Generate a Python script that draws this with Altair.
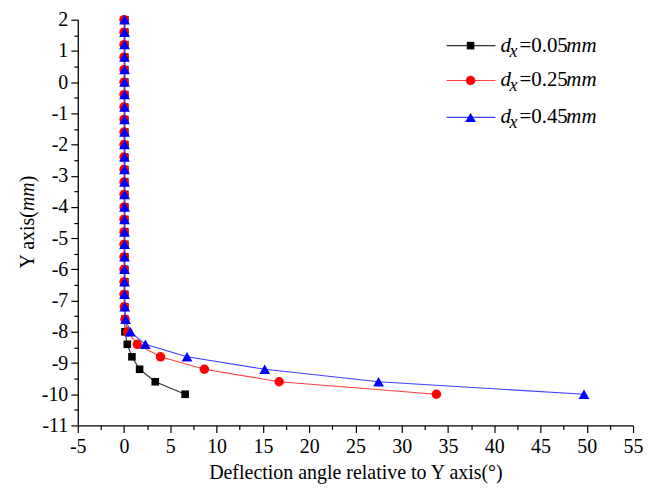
import altair as alt
import pandas as pd

# ---- data ----
y_mm = [2.0, 1.6, 1.2, 0.8, 0.4, 0.0, -0.4, -0.8, -1.2, -1.6, -2.0, -2.4, -2.8,
        -3.2, -3.6, -4.0, -4.4, -4.8, -5.2, -5.6, -6.0, -6.4, -6.8, -7.2, -7.6,
        -8.0, -8.4, -8.8, -9.2, -9.6, -10.0]

angle_005 = [0.08, 0.08, 0.08, 0.08, 0.08, 0.08, 0.08, 0.08, 0.08, 0.08, 0.08, 0.08,
             0.08, 0.08, 0.08, 0.08, 0.08, 0.08, 0.08, 0.08, 0.08, 0.08, 0.08, 0.08,
             0.08, 0.1, 0.35, 0.85, 1.68, 3.37, 6.6]
angle_025 = [0.0, 0.0, 0.0, 0.0, 0.0, 0.0, 0.0, 0.0, 0.0, 0.0, 0.0, 0.0,
             0.0, 0.0, 0.0, 0.0, 0.0, 0.0, 0.0, 0.0, 0.0, 0.0, 0.0, 0.03,
             0.1, 0.4, 1.43, 3.94, 8.68, 16.76, 33.75]
angle_045 = [0.05, 0.05, 0.05, 0.05, 0.05, 0.05, 0.05, 0.05, 0.05, 0.05, 0.05, 0.05,
             0.05, 0.05, 0.05, 0.05, 0.05, 0.05, 0.05, 0.05, 0.05, 0.05, 0.05, 0.08,
             0.17, 0.68, 2.3, 6.8, 15.2, 27.5, 49.7]

series = ["0.05", "0.25", "0.45"]
series_values = [angle_005, angle_025, angle_045]
colors = ["#000000", "#FF0000", "#0000FF"]
line_colors = ["#333333", "#FF4040", "#4040FF"]
shapes = ["square", "circle", "triangle-up"]
sizes = [58, 90, 118]

x_ticks = [-5 + 2.5 * i for i in range(25)]
y_ticks = [-11 + 0.5 * i for i in range(27)]

FONT = "'Liberation Serif', 'DejaVu Serif', serif"
W, H = 557, 407

rows = []
for s, vals in zip(series, series_values):
    for i, (yv, xv) in enumerate(zip(y_mm, vals)):
        rows.append({"series": s, "idx": i, "y": yv, "angle": xv})
df = pd.DataFrame(rows)

x_enc = alt.X(
    "angle:Q",
    scale=alt.Scale(domain=[-5, 55], nice=False, zero=False),
    axis=alt.Axis(
        values=x_ticks,
        labelExpr="datum.value % 5 === 0 ? '' + datum.value : ''",
        tickSize={"condition": {"test": "datum.value % 5 === 0", "value": 7}, "value": 4},
        title="Deflection angle relative to Y axis(°)",
        titleFont=FONT, titleFontSize=20, titleFontWeight="normal", titleColor="black",
        titlePadding=6,
        labelFont=FONT, labelFontSize=20, labelColor="black", labelPadding=4,
        labelFlush=False, labelOverlap=False,
        domainColor="black", domainWidth=1.3, tickColor="black", tickWidth=1.2,
        grid=False,
    ),
)
y_enc = alt.Y(
    "y:Q",
    scale=alt.Scale(domain=[-11, 2], nice=False, zero=False),
    axis=alt.Axis(
        values=y_ticks,
        labelExpr="datum.value % 1 === 0 ? '' + datum.value : ''",
        tickSize={"condition": {"test": "datum.value % 1 === 0", "value": 7}, "value": 4},
        title=None,
        labelFont=FONT, labelFontSize=20, labelColor="black", labelPadding=3,
        labelFlush=False, labelOverlap=False,
        domainColor="black", domainWidth=1.3, tickColor="black", tickWidth=1.2,
        grid=False,
    ),
)

layers = []
for s, c, lc, sh, sz in zip(series, colors, line_colors, shapes, sizes):
    sub = df[df["series"] == s]
    layers.append(
        alt.Chart(sub).mark_line(color=lc, strokeWidth=1.1).encode(
            x=x_enc, y=y_enc, order="idx:Q")
    )
    layers.append(
        alt.Chart(sub).mark_point(shape=sh, size=sz, filled=True, color=c, opacity=1).encode(
            x=x_enc, y=y_enc)
    )

one = alt.Data(values=[{"a": 1}])

# ---- custom legend (italic d, subscript x, italic mm) ----
leg_rows = [26, 61, 98]
for s, c, lc, sh, sz, ry in zip(series, colors, line_colors, shapes, sizes, leg_rows):
    layers.append(alt.Chart(one).mark_rule(color=lc, strokeWidth=1.1).encode(
        x=alt.value(370), x2=alt.value(419), y=alt.value(ry)))
    layers.append(alt.Chart(one).mark_point(shape=sh, size=sz, filled=True, color=c, opacity=1).encode(
        x=alt.value(394), y=alt.value(ry)))
    layers.append(alt.Chart(one).mark_text(text="d", font=FONT, fontSize=21, fontStyle="italic",
                                           align="left", baseline="alphabetic", color="black").encode(
        x=alt.value(424), y=alt.value(ry + 6)))
    layers.append(alt.Chart(one).mark_text(text="x", font=FONT, fontSize=18, fontStyle="italic",
                                           align="left", baseline="alphabetic", color="black").encode(
        x=alt.value(433), y=alt.value(ry + 11)))
    layers.append(alt.Chart(one).mark_text(text="=" + s, font=FONT, fontSize=21,
                                           align="left", baseline="alphabetic", color="black").encode(
        x=alt.value(443), y=alt.value(ry + 6)))
    layers.append(alt.Chart(one).mark_text(text="mm", font=FONT, fontSize=21, fontStyle="italic",
                                           align="left", baseline="alphabetic", color="black").encode(
        x=alt.value(490), y=alt.value(ry + 6)))

# ---- y axis title: "Y axis(" + italic "mm" + ")" ----
tx = -44
joint = 192
layers.append(alt.Chart(one).mark_text(text="Y axis(", font=FONT, fontSize=20, angle=270,
                                       align="right", baseline="alphabetic", color="black").encode(
    x=alt.value(tx), y=alt.value(joint)))
layers.append(alt.Chart(one).mark_text(text="mm", font=FONT, fontSize=20, angle=270, fontStyle="italic",
                                       align="left", baseline="alphabetic", color="black").encode(
    x=alt.value(tx), y=alt.value(joint)))
layers.append(alt.Chart(one).mark_text(text=")", font=FONT, fontSize=20, angle=270,
                                       align="left", baseline="alphabetic", color="black").encode(
    x=alt.value(tx), y=alt.value(joint - 29)))

chart = alt.layer(*layers).properties(
    width=W, height=H,
    autosize=alt.AutoSizeParams(type="none"),
    padding={"left": 70, "top": 11, "right": 20, "bottom": 60},
    background="white",
).configure_view(stroke=None)

chart.save("out.html", embed_options={"renderer": "svg", "actions": False})
